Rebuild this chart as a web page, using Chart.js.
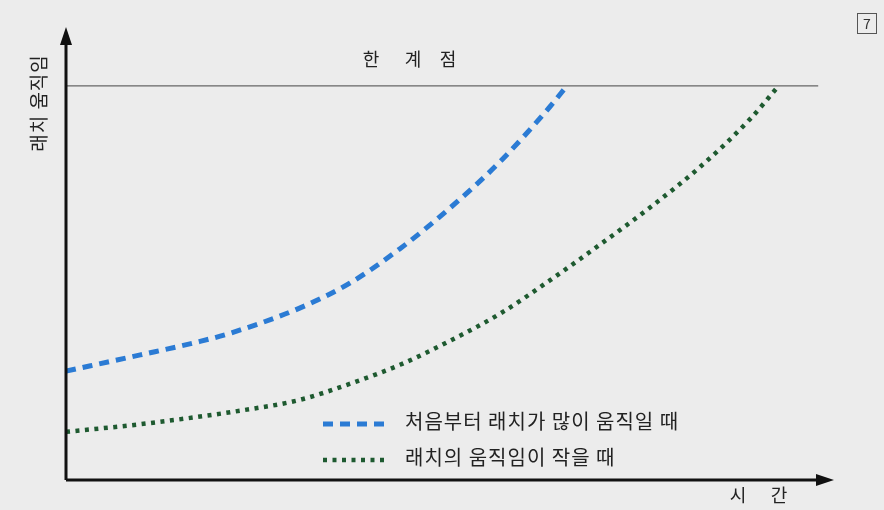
<!DOCTYPE html>
<html>
<head>
<meta charset="utf-8">
<script src="https://cdn.jsdelivr.net/npm/chart.js@4/dist/chart.umd.min.js"></script>
<style>
  body { margin: 0; background: #ececec; }
  #wrap { width: 884px; height: 510px; }
</style>
</head>
<body>
<div id="wrap"><canvas id="myChart"></canvas></div>
<script>
const fastX = [0, 9.7, 17.5, 21.4, 30.5, 37.1, 43.6, 50.1, 56.7, 63.2, 65.4];
const fastY = [24.2, 27.8, 30.8, 32.6, 38.2, 43.8, 51.4, 60.4, 70.8, 83.0, 87.6];
const slowX = [0, 9.7, 22.7, 30.5, 37.1, 43.6, 50.1, 56.7, 63.2, 69.7, 76.2, 82.8, 89.3, 92.7];
const slowY = [10.7, 12.4, 15.4, 17.8, 21.4, 25.6, 30.9, 37.0, 44.4, 52.3, 60.5, 69.6, 80.2, 86.9];
const limitX = [0, 98.2];
const limitY = [87.6, 87.6];
const seriesNames = ["처음부터 래치가 많이 움직일 때", "래치의 움직임이 작을 때"];
const FONT = "'Noto Sans CJK KR', 'Noto Sans', sans-serif";

function pts(xs, ys) {
  return xs.map((x, i) => ({ x: x, y: ys[i] }));
}

const data = {
  datasets: [
    {
      label: seriesNames[0],
      data: pts(fastX, fastY),
      borderColor: "#2b7bd4",
      borderWidth: 5,
      borderDash: [10, 7],
      borderCapStyle: "butt",
      cubicInterpolationMode: "monotone",
      pointRadius: 0,
    },
    {
      label: seriesNames[1],
      data: pts(slowX, slowY),
      borderColor: "#1e5a30",
      borderWidth: 4.5,
      borderDash: [4, 5.5],
      borderCapStyle: "butt",
      cubicInterpolationMode: "monotone",
      pointRadius: 0,
    },
    {
      label: "한계점",
      data: pts(limitX, limitY),
      borderColor: "#666",
      borderWidth: 1.3,
      pointRadius: 0,
    },
  ],
};

// axes with arrows, titles, legend and page mark
const decor = {
  id: "decor",
  afterDatasetsDraw(chart) {
    const ctx = chart.ctx;
    const a = chart.chartArea;
    ctx.save();
    ctx.strokeStyle = "#111";
    ctx.fillStyle = "#111";
    ctx.lineWidth = 3;
    ctx.beginPath();
    ctx.moveTo(a.left, a.bottom);
    ctx.lineTo(a.left, a.top + 12);
    ctx.moveTo(a.left, a.bottom);
    ctx.lineTo(a.right - 12, a.bottom);
    ctx.stroke();
    ctx.beginPath();
    ctx.moveTo(a.left, a.top - 3);
    ctx.lineTo(a.left - 6, a.top + 15);
    ctx.lineTo(a.left + 6, a.top + 15);
    ctx.closePath();
    ctx.fill();
    ctx.beginPath();
    ctx.moveTo(a.right + 2, a.bottom);
    ctx.lineTo(a.right - 16, a.bottom - 6);
    ctx.lineTo(a.right - 16, a.bottom + 6);
    ctx.closePath();
    ctx.fill();

    ctx.fillStyle = "#222";
    ctx.font = "18px " + FONT;
    ctx.textAlign = "center";
    ctx.textBaseline = "middle";
    [["한", 371], ["계", 413], ["점", 448]].forEach(([c, x]) => ctx.fillText(c, x, 59));
    [["시", 738], ["간", 779]].forEach(([c, x]) => ctx.fillText(c, x, 495));
    ctx.save();
    ctx.translate(39, 103);
    ctx.rotate(-Math.PI / 2);
    ctx.font = "19px " + FONT;
    ctx.letterSpacing = "1px";
    ctx.fillText("래치 움직임", 0, 0);
    ctx.restore();

    // legend
    const rows = [424, 460];
    ctx.font = "20px " + FONT;
    ctx.letterSpacing = "1px";
    ctx.textAlign = "left";
    [0, 1].forEach((i) => {
      const ds = chart.data.datasets[i];
      ctx.save();
      ctx.strokeStyle = ds.borderColor;
      ctx.lineWidth = ds.borderWidth;
      ctx.setLineDash(ds.borderDash);
      ctx.beginPath();
      ctx.moveTo(323, rows[i]);
      ctx.lineTo(389, rows[i]);
      ctx.stroke();
      ctx.restore();
      ctx.fillStyle = "#222";
      ctx.fillText(ds.label, 405, rows[i] - 3);
    });
    ctx.letterSpacing = "0px";

    // page mark
    ctx.strokeStyle = "#555";
    ctx.lineWidth = 1;
    ctx.strokeRect(857.5, 13.5, 19, 20);
    ctx.fillStyle = "#333";
    ctx.font = "14px " + FONT;
    ctx.textAlign = "center";
    ctx.fillText("7", 867, 24);
    ctx.restore();
  },
};

const config = {
  type: "line",
  data: data,
  options: {
    responsive: true,
    maintainAspectRatio: false,
    animation: false,
    layout: { padding: { left: 66, right: 52, top: 30, bottom: 30 } },
    scales: {
      x: { type: "linear", min: 0, max: 100, display: false },
      y: { min: 0, max: 100, display: false },
    },
    plugins: {
      legend: { display: false },
      tooltip: { enabled: false },
    },
  },
  plugins: [decor],
};

window.onload = function () {
  const ctx = document.getElementById("myChart").getContext("2d");
  new Chart(ctx, config);
};
</script>
</body>
</html>
